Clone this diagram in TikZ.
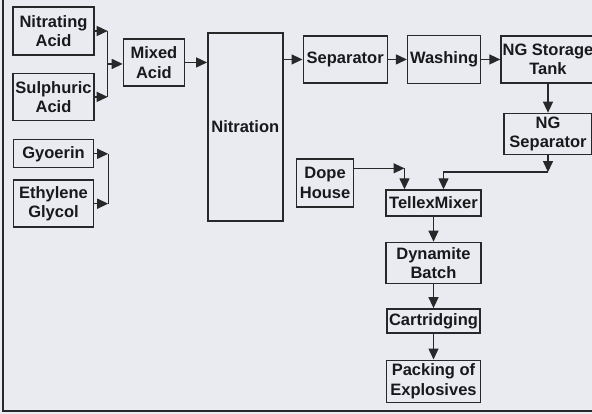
\documentclass[tikz,border=0pt]{standalone}
\usepackage{fontspec}
\setmainfont{Liberation Sans}
\usetikzlibrary{positioning,arrows.meta,calc}

\definecolor{bgc}{RGB}{233,235,240}
\definecolor{linec}{RGB}{40,40,42}
\definecolor{txtc}{RGB}{25,25,28}

\begin{document}
\begin{tikzpicture}[
    x=1pt, y=1pt,
    node distance=19pt and 19pt,
    box/.style={draw=linec, line width=1.4pt, fill=bgc, align=center, inner sep=1pt, text=txtc, font=\fontsize{16.5}{19.5}\selectfont\bfseries},
    arrow/.style={-{Triangle[length=11pt,width=10pt]}, line width=1.4pt, draw=linec},
    line/.style={line width=1.4pt, draw=linec}
]
% Background and frame
\useasboundingbox (0,0) rectangle (592,-414);
\fill[bgc] (0,0) rectangle (592,-414);
\draw[line] (3,0) -- (3,-411) -- (592,-411);

% Nodes
\node[box, minimum width=81pt, minimum height=48pt] (nitr) at (53.5,-31) {Nitrating\\Acid};
\node[box, minimum width=81pt, minimum height=47pt, below=17pt of nitr] (sulph) {Sulphuric\\Acid};
\node[box, minimum width=80pt, minimum height=28pt, below=18pt of sulph] (gly) {Gyoerin};
\node[box, minimum width=80pt, minimum height=47pt, below=11pt of gly] (eth) {Ethylene\\Glycol};
\coordinate (acidj) at ($(nitr.east)!0.5!(sulph.east)+(13pt,0)$);
\coordinate (glyj) at ($(gly.east)+(14pt,0)$);
\node[box, minimum width=61pt, minimum height=47pt, right=15pt of acidj, yshift=1.5pt] (mixed) {Mixed\\Acid};
\node[box, minimum width=75pt, minimum height=188pt, anchor=north west] (nitration) at ([xshift=22pt,yshift=6pt]mixed.north east) {Nitration};
\node[box, minimum width=84pt, minimum height=47pt, anchor=north west] (sep) at ([xshift=19pt,yshift=-3pt]nitration.north east) {Separator};
\node[box, minimum width=73pt, minimum height=48pt, right=of sep] (wash) {Washing};
\node[box, minimum width=94pt, minimum height=47pt, right=of wash] (tank) {NG Storage\\Tank};
\node[box, minimum width=88pt, minimum height=41pt, below=29pt of tank] (ngsep) {NG\\Separator};
\node[box, minimum width=95pt, minimum height=26pt] (tellex) at (433.5,-203) {TellexMixer};
\node[box, minimum width=57pt, minimum height=48pt, left=31pt of tellex, yshift=20pt] (dope) {Dope\\House};
\node[box, minimum width=95pt, minimum height=41pt, below=25pt of tellex] (dyn) {Dynamite\\Batch};
\node[box, minimum width=93pt, minimum height=24pt, below=24pt of dyn] (cart) {Cartridging};
\node[box, minimum width=94pt, minimum height=42pt, below=26pt of cart] (pack) {Packing of\\Explosives};

% Arrows
\draw[arrow] (nitr.east) -- (nitr.east -| acidj);
\draw[arrow] (sulph.east) -- (sulph.east -| acidj);
\draw[line] (nitr.east -| acidj) -- (sulph.east -| acidj);
\draw[arrow] (acidj) -- (acidj -| mixed.west);
\draw[arrow] (gly.east) -- (gly.east -| glyj);
\draw[arrow] (eth.east) -- (eth.east -| glyj);
\draw[line] (gly.east -| glyj) -- (eth.east -| glyj);
\draw[arrow] (mixed.east) -- (mixed.east -| nitration.west);
\draw[arrow] (nitration.east |- sep.west) -- (sep.west);
\draw[arrow] (sep.east) -- (sep.east -| wash.west);
\draw[arrow] (wash.east) -- (wash.east -| tank.west);
\draw[arrow] (tank) -- (ngsep);
\coordinate (ngj) at ([yshift=-17pt]ngsep.south);
\draw[arrow] (ngsep) -- (ngj);
\draw[arrow] (ngj) -| ([xshift=10pt]tellex.north);
\coordinate (dopej) at ($(tellex.north |- dope.north)+(-29pt,-10pt)$);
\draw[arrow] (dope.east |- dopej) -- (dopej);
\draw[arrow] (dopej) -- (dopej |- tellex.north);
\draw[arrow] (tellex) -- (dyn);
\draw[arrow] (dyn) -- (cart);
\draw[arrow] (cart) -- (pack);

\end{tikzpicture}
\end{document}
